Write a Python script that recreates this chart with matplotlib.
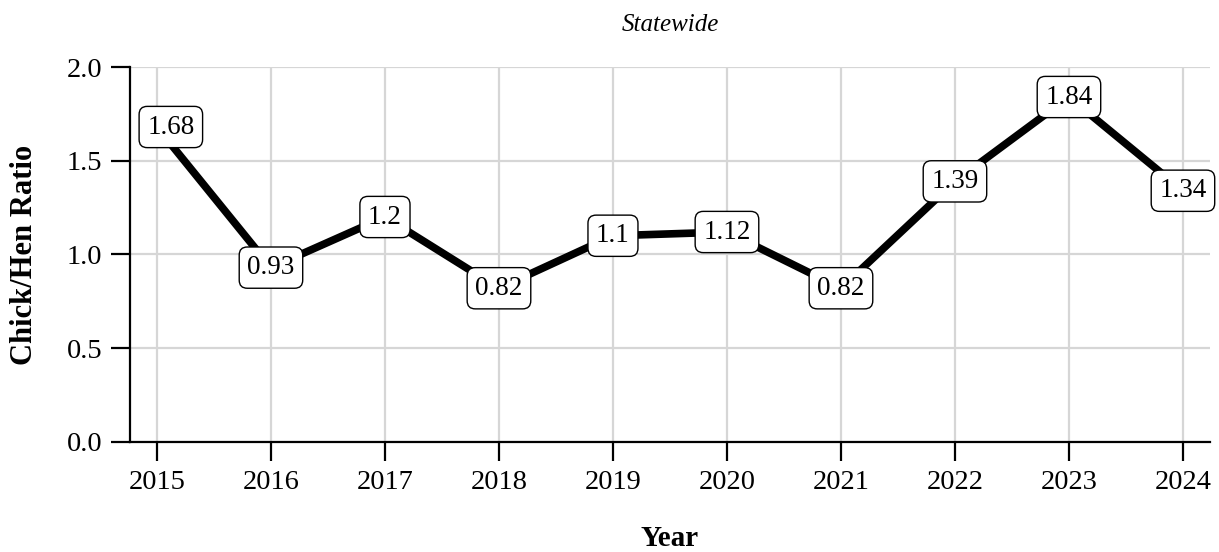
import matplotlib
matplotlib.use('Agg')
import matplotlib.pyplot as plt

plt.rcParams['font.family'] = ['Liberation Serif', 'DejaVu Serif']

years = [2015, 2016, 2017, 2018, 2019, 2020, 2021, 2022, 2023, 2024]
ratio = [1.68, 0.93, 1.2, 0.82, 1.1, 1.12, 0.82, 1.39, 1.84, 1.34]
labels = ['1.68', '0.93', '1.2', '0.82', '1.1', '1.12', '0.82', '1.39', '1.84', '1.34']
yticks = [0.0, 0.5, 1.0, 1.5, 2.0]

GRID = '#d6d6d6'

fig = plt.figure(figsize=(12.19, 5.52), dpi=100)
ax = fig.add_axes([0.1066, 0.1993, 0.886, 0.6793])

ax.plot(years, ratio, color='black', lw=5.5, solid_capstyle='butt', zorder=3)

for i, (x, y, s) in enumerate(zip(years, ratio, labels)):
    dx = 10 if i == 0 else 0  # first label nudged inside the panel
    ax.annotate(s, (x, y), xytext=(dx, 0), textcoords='offset points',
                ha='center', va='center', fontsize=19.5, zorder=4,
                bbox=dict(boxstyle='round,pad=0.3,rounding_size=0.3',
                          fc='white', ec='black', lw=1.0))

ax.set_xlim(2014.763, 2024.237)
ax.set_ylim(0, 2.0)
ax.set_xticks(years)
ax.set_yticks(yticks)
ax.set_yticklabels([f'{v:.1f}' for v in yticks])
ax.grid(True, color=GRID, lw=1.6, zorder=0)
ax.set_axisbelow(True)

for side in ['top', 'right']:
    ax.spines[side].set_visible(False)
for side in ['left', 'bottom']:
    ax.spines[side].set_linewidth(1.6)
ax.tick_params(axis='both', length=14, width=1.6, labelsize=20.5, pad=6)

ax.set_title('Statewide', style='italic', fontsize=18, pad=26)
ax.set_xlabel('Year', fontweight='bold', fontsize=21, labelpad=22)
ax.set_ylabel('Chick/Hen Ratio', fontweight='bold', fontsize=22, labelpad=20)

fig.savefig('out.png', dpi=100)
